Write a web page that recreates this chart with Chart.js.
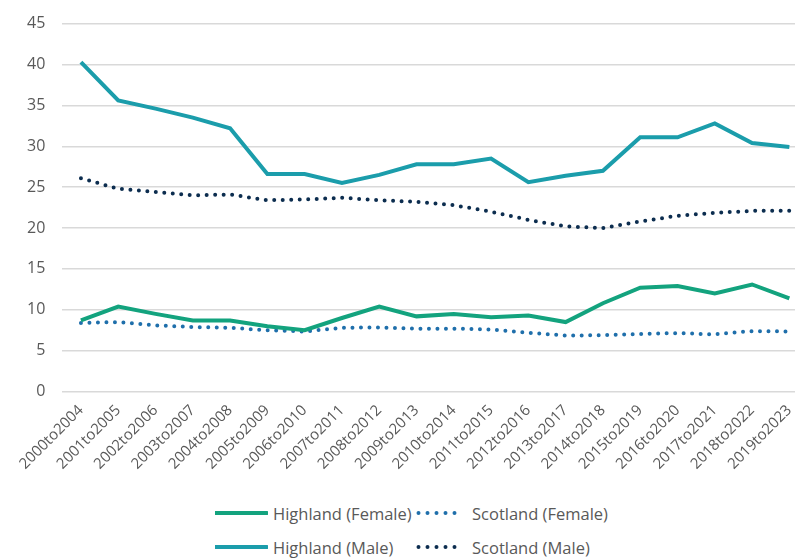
<!DOCTYPE html>
<html>
<head>
<meta charset="utf-8">
<script src="https://cdn.jsdelivr.net/npm/chart.js@4/dist/chart.umd.min.js"></script>
<style>
  html, body { margin: 0; padding: 0; background: #fff; overflow: hidden; }
  #wrap { position: relative; width: 795px; height: 558px; overflow: hidden; }
  #chartBox { position: absolute; left: 0; top: -3px; width: 812px; height: 478px; }
  #legend { position: absolute; left: 215px; top: 501px; display: grid;
            grid-template-columns: 201px 200px; row-gap: 10px;
            font-family: "Open Sans", sans-serif; font-size: 16.5px; color: #595959; }
  .item { display: flex; align-items: center; height: 24px; white-space: nowrap; }
  .item svg { margin-right: 5px; flex: none; }
</style>
</head>
<body>
<div id="wrap">
  <div id="chartBox"><canvas id="rateChart"></canvas></div>
  <div id="legend"></div>
</div>
<script>
const periods = [
  '2000to2004', '2001to2005', '2002to2006', '2003to2007', '2004to2008',
  '2005to2009', '2006to2010', '2007to2011', '2008to2012', '2009to2013',
  '2010to2014', '2011to2015', '2012to2016', '2013to2017', '2014to2018',
  '2015to2019', '2016to2020', '2017to2021', '2018to2022', '2019to2023'
];

const highlandFemale = [8.7, 10.4, 9.5, 8.7, 8.7, 8.0, 7.5, 9.0, 10.4, 9.2, 9.5, 9.1, 9.3, 8.5, 10.8, 12.7, 12.9, 12.0, 13.1, 11.4];
const scotlandFemale = [8.4, 8.5, 8.1, 7.9, 7.8, 7.5, 7.35, 7.8, 7.85, 7.7, 7.7, 7.6, 7.2, 6.85, 6.9, 7.05, 7.15, 7.0, 7.4, 7.35];
const highlandMale = [40.3, 35.6, 34.6, 33.5, 32.2, 26.6, 26.6, 25.5, 26.5, 27.8, 27.8, 28.5, 25.6, 26.4, 27.0, 31.1, 31.1, 32.8, 30.4, 29.9];
const scotlandMale = [26.1, 24.8, 24.4, 24.0, 24.1, 23.4, 23.5, 23.7, 23.4, 23.2, 22.8, 22.0, 21.0, 20.2, 20.0, 20.8, 21.5, 21.85, 22.1, 22.1];

const yTicks = [0, 5, 10, 15, 20, 25, 30, 35, 40, 45];

const textGrey = '#595959';
const fontFamily = '"Open Sans", sans-serif';

function series(label, values, colour, dotted) {
    return {
        label: label,
        data: values,
        borderColor: colour,
        backgroundColor: colour,
        borderWidth: 4,
        borderDash: dotted ? [0, 8.5] : [],
        borderCapStyle: dotted ? 'round' : 'butt',
        pointRadius: 0,
        tension: 0,
        fill: false
    };
}

const datasets = [
    series('Highland (Female)', highlandFemale, '#13a37e', false),
    series('Scotland (Female)', scotlandFemale, '#1f6fab', true),
    series('Highland (Male)', highlandMale, '#1b9dab', false),
    series('Scotland (Male)', scotlandMale, '#0c2d4f', true)
];

const ctx = document.getElementById('rateChart').getContext('2d');
const rateChart = new Chart(ctx, {
    type: 'line',
    data: { labels: periods, datasets: datasets },
    options: {
        responsive: true,
        maintainAspectRatio: false,
        animation: false,
        layout: { padding: { top: 7, right: 4, left: 10, bottom: 0 } },
        plugins: {
            legend: { display: false },
            tooltip: { enabled: false }
        },
        scales: {
            x: {
                offset: true,
                grid: { display: false },
                border: { display: false },
                ticks: {
                    color: textGrey,
                    font: { family: fontFamily, size: 15 },
                    maxRotation: 45,
                    minRotation: 45,
                    autoSkip: false,
                    padding: 2
                }
            },
            y: {
                min: 0,
                max: 45,
                afterBuildTicks: axis => { axis.ticks = yTicks.map(v => ({ value: v })); },
                grid: { color: '#d9d9d9', lineWidth: 1.5, drawTicks: false },
                border: { display: false },
                ticks: {
                    color: textGrey,
                    font: { family: fontFamily, size: 16 },
                    padding: 17
                }
            }
        }
    }
});

// Legend drawn as html so the two columns line up
const legendBox = document.getElementById('legend');
rateChart.data.datasets.forEach(ds => {
    const item = document.createElement('div');
    item.className = 'item';
    const dotted = ds.borderDash.length > 0;
    const svgNS = 'http://www.w3.org/2000/svg';
    const svg = document.createElementNS(svgNS, 'svg');
    svg.setAttribute('width', dotted ? '49' : '53');
    svg.setAttribute('height', '8');
    const line = document.createElementNS(svgNS, 'line');
    line.setAttribute('x1', dotted ? '2.5' : '0');
    line.setAttribute('x2', dotted ? '47.5' : '52');
    line.setAttribute('y1', '4');
    line.setAttribute('y2', '4');
    line.setAttribute('stroke', ds.borderColor);
    line.setAttribute('stroke-width', '4');
    line.setAttribute('stroke-linecap', 'round');
    if (dotted) line.setAttribute('stroke-dasharray', '0 9');
    svg.appendChild(line);
    const text = document.createElement('span');
    text.textContent = ds.label;
    if (dotted) text.style.marginLeft = '2px';
    item.appendChild(svg);
    item.appendChild(text);
    legendBox.appendChild(item);
});
</script>
</body>
</html>
